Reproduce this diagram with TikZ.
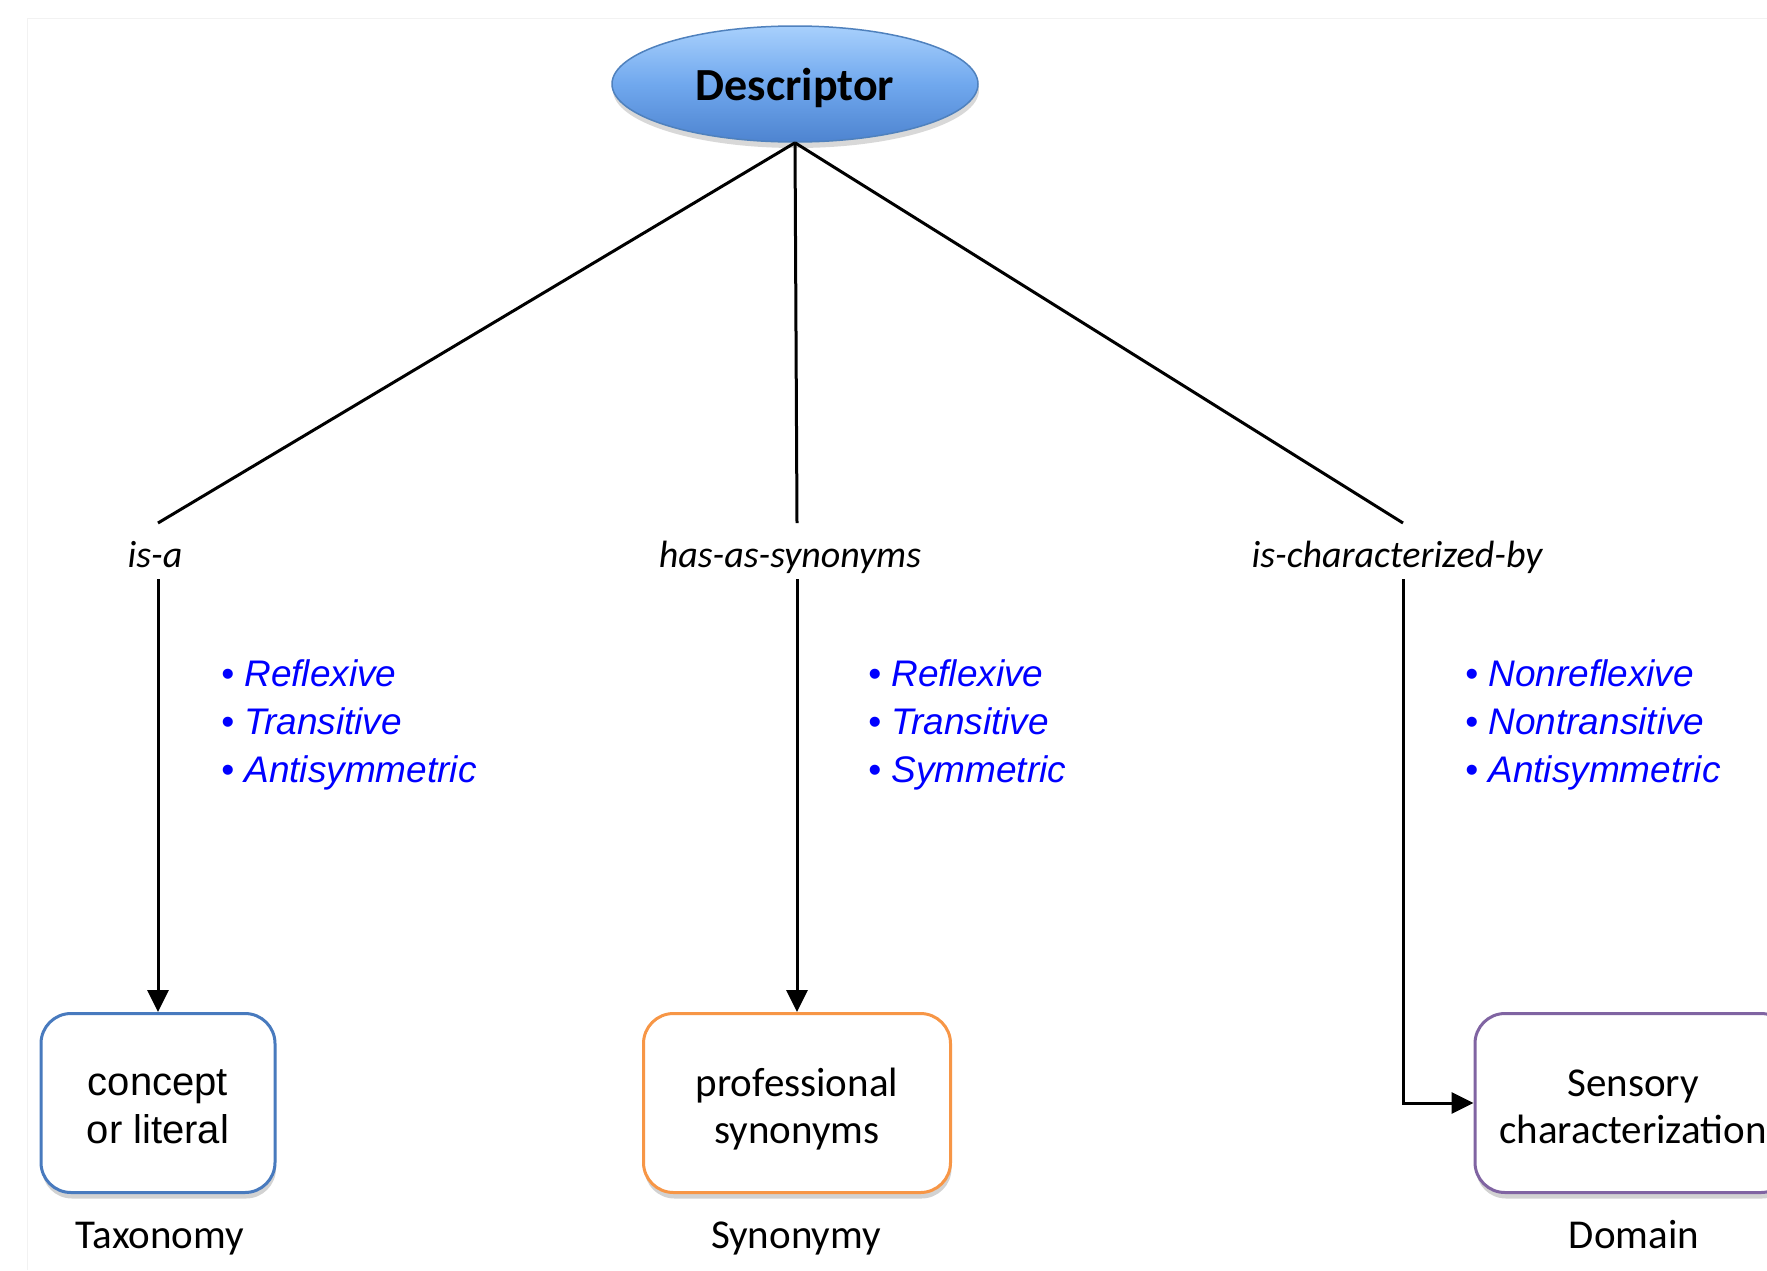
\documentclass[tikz,border=0pt]{standalone}
\usepackage{fontspec}
\setmainfont{Carlito}
\newfontfamily\arialf{Liberation Sans}
\usetikzlibrary{arrows.meta,shapes.geometric,shadows}
\definecolor{ellA}{RGB}{168,208,252}
\definecolor{ellB}{RGB}{112,168,238}
\definecolor{ellC}{RGB}{78,132,208}
\definecolor{ellEdge}{RGB}{79,129,189}
\definecolor{bxBlue}{RGB}{72,122,190}
\definecolor{bxOrange}{RGB}{247,150,70}
\definecolor{bxPurple}{RGB}{128,100,162}
\definecolor{propBlue}{RGB}{0,0,255}
\tikzset{
  conn/.style={line width=3pt, black},
  arr/.style={conn, -{Triangle[length=22pt,width=21pt]}},
  relbox/.style={draw, rounded corners=30pt, line width=3pt, fill=white,
    minimum height=179pt, align=center, inner sep=0pt,
    text height=80pt, text depth=0pt,
    drop shadow={opacity=0.35, shadow xshift=1pt, shadow yshift=-6pt},
    font=\fontsize{41}{47}\selectfont},
  rellabel/.style={anchor=base, inner sep=0pt, font=\fontsize{38}{45}\selectfont\itshape},
  caption/.style={anchor=base, inner sep=0pt, font=\fontsize{41}{47}\selectfont},
  props/.style={anchor=west, inner sep=0pt, align=left, text=propBlue,
    font=\arialf\fontsize{37}{48}\selectfont\itshape},
}
\begin{document}
\begin{tikzpicture}[x=1pt,y=-1pt]
\useasboundingbox (0,0) rectangle (1767,1270);
\fill[white] (0,0) rectangle (1767,1270);
% faint page frame
\draw[black!5, line width=1pt] (27,1270) -- (27,18) -- (1767,18);

% Descriptor ellipse
\node[ellipse, minimum width=366pt, minimum height=116pt, inner sep=0pt,
  draw=ellEdge, line width=1.5pt,
  top color=ellA, bottom color=ellC, middle color=ellB,
  drop shadow={opacity=0.3, shadow xshift=1pt, shadow yshift=-6pt},
  font=\fontsize{46}{52}\selectfont\bfseries, text depth=0pt]
  (desc) at (795,84) {Descriptor};

% relation labels
\node[rellabel] (isa) at (155,567) {is-a};
\node[rellabel] (syn) at (790,567) {has-as-synonyms};
\node[rellabel] (chr) at (1397,567) {is-characterized-by};
\coordinate (isaT) at (158,523);
\coordinate (isaB) at (158,579);
\coordinate (synT) at (797,523);
\coordinate (synB) at (797,579);
\coordinate (chrT) at (1403,523);
\coordinate (chrB) at (1403,579);

% target boxes
\node[relbox, draw=bxBlue, minimum width=234pt, font=\arialf\fontsize{40}{48}\selectfont]
  (b1) at (158,1103) {concept\\or literal};
\node[relbox, draw=bxOrange, minimum width=307pt] (b2) at (797,1103) {professional\\synonyms};
\node[relbox, draw=bxPurple, minimum width=316pt] (b3) at (1633,1103) {Sensory\\characterization};

% captions
\node[caption] (c1) at (160,1248) {Taxonomy};
\node[caption] (c2) at (796,1248) {Synonymy};
\node[caption] (c3) at (1634,1248) {Domain};

% properties
\node[props] (p1) at (221,725) {• Reflexive\\• Transitive\\• Antisymmetric};
\node[props] (p2) at (868,725) {• Reflexive\\• Transitive\\• Symmetric};
\node[props] (p3) at (1465,725) {• Nonreflexive\\• Nontransitive\\• Antisymmetric};

% connectors
\draw[conn] (desc.south) -- (isaT);
\draw[conn] (desc.south) -- (synT);
\draw[conn] (desc.south) -- (chrT);
\draw[arr] (isaB) -- (b1.north);
\draw[arr] (synB) -- (b2.north);
\draw[arr] (chrB) |- (b3.west);
\end{tikzpicture}
\end{document}
